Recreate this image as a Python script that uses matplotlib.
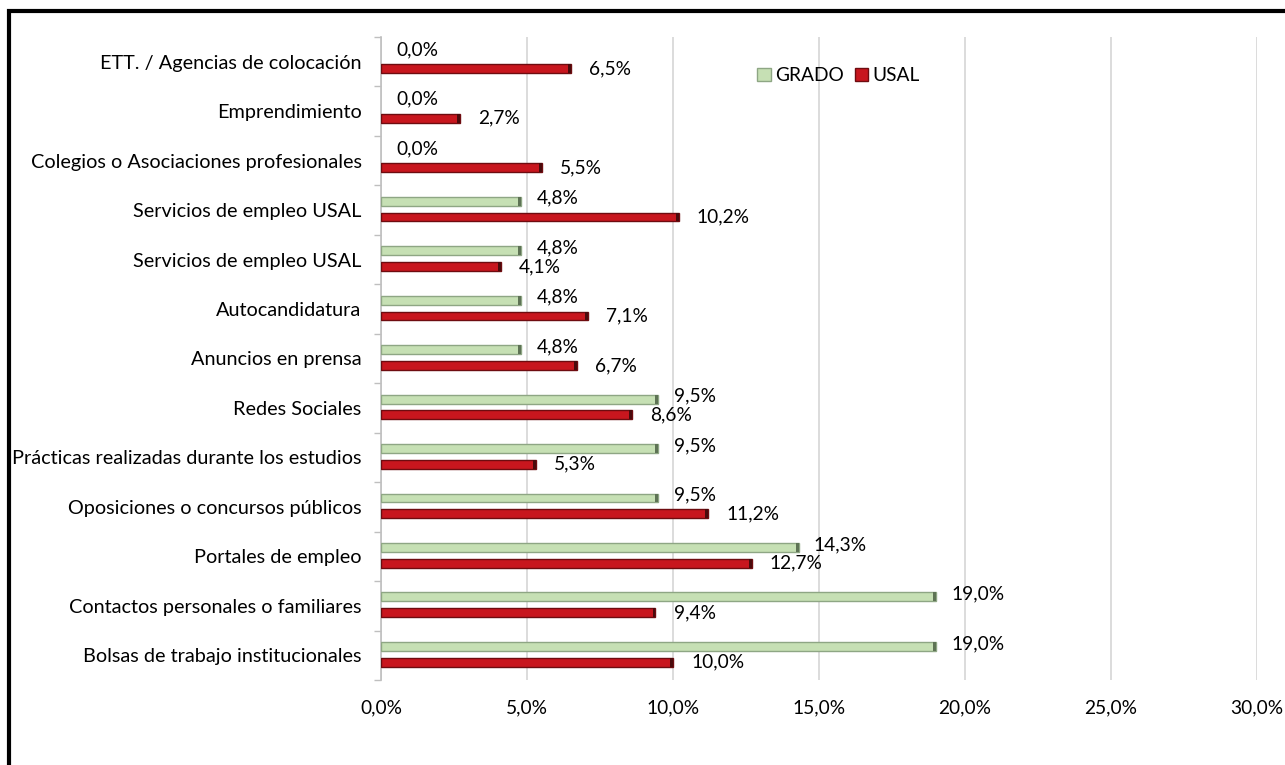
import numpy as np
import matplotlib.pyplot as plt
from matplotlib.patches import Patch, Rectangle

plt.rcParams['font.family'] = ['Lato', 'DejaVu Sans']

categories = [
    "ETT. / Agencias de colocación",
    "Emprendimiento",
    "Colegios o Asociaciones profesionales",
    "Servicios de empleo USAL",
    "Servicios de empleo USAL",
    "Autocandidatura",
    "Anuncios en prensa",
    "Redes Sociales",
    "Prácticas realizadas durante los estudios",
    "Oposiciones o concursos públicos",
    "Portales de empleo",
    "Contactos personales o familiares",
    "Bolsas de trabajo institucionales",
]
grado = [0.0, 0.0, 0.0, 4.8, 4.8, 4.8, 4.8, 9.5, 9.5, 9.5, 14.3, 19.0, 19.0]
usal = [6.5, 2.7, 5.5, 10.2, 4.1, 7.1, 6.7, 8.6, 5.3, 11.2, 12.7, 9.4, 10.0]
xticks = [0, 5, 10, 15, 20, 25, 30]


def fmt(v):
    return f"{v:.1f}".replace('.', ',') + '%'


fs = 13.8
fig = plt.figure(figsize=(12.85, 7.65), dpi=100)
ax = fig.add_axes([381 / 1285, 1 - 680 / 765, 876 / 1285, (680 - 37) / 765])

y = np.arange(len(categories))
h = 0.18
green_face, green_edge = '#C6E0B4', '#8EA684'
red_face, red_edge = '#C8161E', '#6E0C10'

ax.barh(y - 0.18, grado, height=h, color=green_face, edgecolor=green_edge,
        linewidth=[1.0 if v > 0 else 0 for v in grado], zorder=3)
ax.barh(y + 0.14, usal, height=h, color=red_face, edgecolor=red_edge, linewidth=1.0, zorder=3)
# darker end caps, like the bevelled bars of the original
cap = 0.1
ax.barh(y - 0.18, [cap if v > 0 else 0 for v in grado], left=[max(v - cap, 0) for v in grado],
        height=h, color='#5E7355', linewidth=0, zorder=4)
ax.barh(y + 0.14, [cap] * len(usal), left=[v - cap for v in usal],
        height=h, color='#4A0A0C', linewidth=0, zorder=4)

for i in range(len(categories)):
    ax.annotate(fmt(grado[i]), (grado[i], y[i] - 0.24), xytext=(11, 0), textcoords='offset points',
                ha='left', va='center', fontsize=fs)
    ax.annotate(fmt(usal[i]), (usal[i], y[i] + 0.14), xytext=(13, 0), textcoords='offset points',
                ha='left', va='center', fontsize=fs)

ax.set_xlim(0, 30)
ax.set_ylim(len(categories) - 0.5, -0.5)
ax.set_xticks(xticks)
ax.set_xticklabels([fmt(t) for t in xticks], fontsize=fs)
ax.set_yticks(y)
ax.set_yticklabels(categories, fontsize=14.3)
ax.set_yticks(np.arange(len(categories) + 1) - 0.5, minor=True)
ax.tick_params(axis='y', which='major', length=0, pad=14)
ax.tick_params(axis='y', which='minor', length=5, color='#BFBFBF', width=1)
ax.tick_params(axis='x', length=0, pad=14)

ax.grid(axis='x', color='#D9D9D9', linewidth=1.3, zorder=0)
ax.set_axisbelow(True)
for s in ['top', 'right', 'bottom']:
    ax.spines[s].set_visible(False)
ax.spines['left'].set_color('#BFBFBF')
ax.spines['left'].set_linewidth(1.2)

handles = [Patch(facecolor=green_face, edgecolor=green_edge, label='GRADO'),
           Patch(facecolor=red_face, edgecolor=red_edge, label='USAL')]
ax.legend(handles=handles, loc='center left', bbox_to_anchor=(0.41, 0.94), ncol=2, frameon=False,
          fontsize=fs, handlelength=0.7, handleheight=0.7, handletextpad=0.2, columnspacing=0.6)

fig.patches.append(Rectangle((8.5 / 1285, -0.1), 2, (765 - 11) / 765 + 0.1, transform=fig.transFigure,
                             fill=False, edgecolor='black', linewidth=3))

fig.savefig('out.png', dpi=100)
